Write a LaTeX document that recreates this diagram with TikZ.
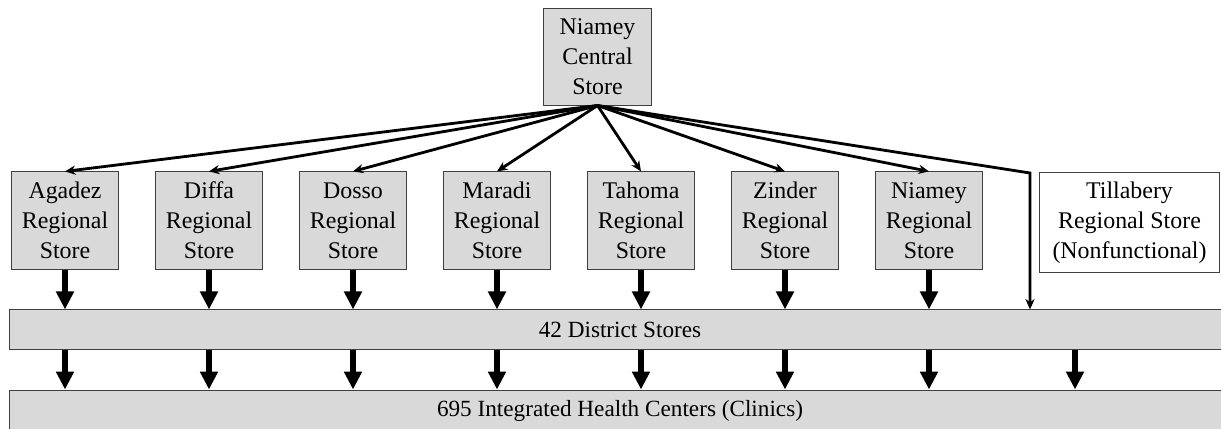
\documentclass[tikz,border=0pt]{standalone}
\usepackage{fontspec}
\setmainfont{Liberation Serif}
\usetikzlibrary{arrows.meta}
\definecolor{StoreGray}{HTML}{D9D9D9}
\definecolor{EdgeGray}{HTML}{3F3F3F}

\begin{document}
\begin{tikzpicture}[x=0.025cm, y=-0.025cm,
    store/.style={draw=EdgeGray, line width=0.7pt, fill=StoreGray, minimum width=2.68cm, minimum height=2.43cm, align=center, inner sep=0pt, font=\fontsize{17}{21.3}\selectfont},
    bar/.style={draw=EdgeGray, line width=0.7pt, fill=StoreGray, minimum width=30.5cm, inner sep=0pt, font=\fontsize{16.5}{19}\selectfont},
    feed/.style={-{Stealth[length=0.26cm,width=0.23cm]}, line width=2pt},
    bulk/.style={-{Triangle[length=0.45cm,width=0.43cm]}, line width=4pt}]
        \useasboundingbox (0,0) rectangle (1221,428);
        \clip (0,0) rectangle (1221,428);
        % central store and the two bars
        \node[store, minimum height=2.4cm] (central) at (597.5,57) {Niamey\\Central\\Store};
        \node[bar, minimum height=0.98cm] (dist) at (620,329.5) {42 District Stores};
        \node[bar, minimum height=1.05cm] (clinics) at (620,411) {695 Integrated Health Centers (Clinics)};
        % regional stores
        \foreach \n/\x/\t in {agadez/65/Agadez, diffa/209/Diffa, dosso/353/Dosso, maradi/497/Maradi, tahoma/641/Tahoma, zinder/785/Zinder, niameyr/929/Niamey} {
            \node[store] (\n) at (\x,220.5) {\t\\Regional\\Store};
            \draw[feed] (central.south) -- (\n.north);
            \draw[bulk] (\n.south) -- (\n.south |- dist.north);
        }
        \node[store, fill=white, minimum width=4.48cm, minimum height=2.48cm] (tillabery) at (1129.5,222.5) {Tillabery\\Regional Store\\(Nonfunctional)};
        % direct line past the nonfunctional store
        \coordinate (bend) at (1030,173);
        \draw[feed] (central.south) -- (bend) -- (bend |- dist.north);
        % district stores to clinics
        \foreach \x in {65,209,353,497,641,785,929,1075}
            \draw[bulk] (\x,0 |- dist.south) -- (\x,0 |- clinics.north);
    \end{tikzpicture}
\end{document}
